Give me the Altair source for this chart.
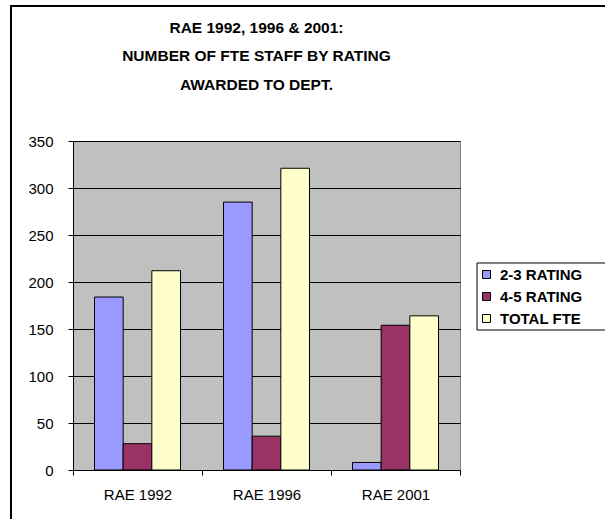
import altair as alt
import pandas as pd

categories = ["RAE 1992", "RAE 1996", "RAE 2001"]
series = ["2-3 RATING", "4-5 RATING", "TOTAL FTE"]
rating_2_3 = [184, 285, 8]
rating_4_5 = [28, 36, 154]
total_fte = [212, 321, 164]
series_colors = ["#9999FF", "#993366", "#FFFFCC"]
y_ticks = [0, 50, 100, 150, 200, 250, 300, 350]
title_lines = ["RAE 1992, 1996 & 2001:", "NUMBER OF FTE STAFF BY RATING", "AWARDED TO DEPT."]

rows = []
for i, cat in enumerate(categories):
    for s, vals in zip(series, [rating_2_3, rating_4_5, total_fte]):
        rows.append({"year": cat, "series": s, "value": vals[i]})
df = pd.DataFrame(rows)

W, H = 387, 329
FONT = "Liberation Sans"

bars = alt.Chart(df).mark_bar(stroke="black", strokeWidth=1).encode(
    x=alt.X(
        "year:N", sort=categories,
        scale=alt.Scale(paddingInner=0, paddingOuter=0),
        axis=alt.Axis(title=None, labelAngle=0, tickBand="extent", tickSize=5,
                      labelPadding=12, labelFontSize=15, labelColor="black",
                      domainColor="black", tickColor="black", labelFont=FONT),
    ),
    xOffset=alt.XOffset("series:N", sort=series,
                        scale=alt.Scale(paddingInner=0, paddingOuter=0.75)),
    y=alt.Y(
        "value:Q",
        scale=alt.Scale(domain=[0, 350], nice=False),
        axis=alt.Axis(title=None, values=y_ticks, grid=True, gridColor="black",
                      gridOpacity=1, tickSize=5, labelPadding=15, labelFontSize=15,
                      labelColor="black", domainColor="black", tickColor="black",
                      labelFont=FONT),
    ),
    color=alt.Color(
        "series:N",
        scale=alt.Scale(domain=series, range=series_colors),
        legend=alt.Legend(
            title=None, orient="none", legendX=406, legendY=126, padding=0,
            symbolType="square", symbolSize=64, symbolStrokeColor="black",
            symbolStrokeWidth=1, symbolOpacity=1, labelFontSize=15,
            labelFontWeight="bold", labelFont=FONT, labelColor="black",
            labelOffset=6, rowPadding=6,
        ),
    ),
)

frame = alt.Chart(pd.DataFrame({"a": [0]})).mark_rect(
    fill="transparent", stroke="black", strokeWidth=2
).encode(x=alt.value(-62), x2=alt.value(545), y=alt.value(-135), y2=alt.value(395))

legend_box = alt.Chart(pd.DataFrame({"a": [0]})).mark_rect(
    fill="white", stroke="black", strokeWidth=1
).encode(x=alt.value(404), x2=alt.value(545), y=alt.value(122), y2=alt.value(189))

chart = alt.layer(frame, legend_box, bars).properties(
    width=W, height=H,
    autosize="none",
    background="white",
    padding={"left": 73, "top": 141, "right": 145, "bottom": 49},
    title=alt.TitleParams(
        text=title_lines, fontSize=15.5, fontWeight="bold", font=FONT,
        lineHeight=28.5, anchor="middle", frame="group", offset=0, dx=-10, dy=88,
        color="black",
    ),
).configure_view(fill="#C0C0C0", stroke="#808080")

chart.save("out.html", embed_options={"renderer": "svg", "actions": False})
